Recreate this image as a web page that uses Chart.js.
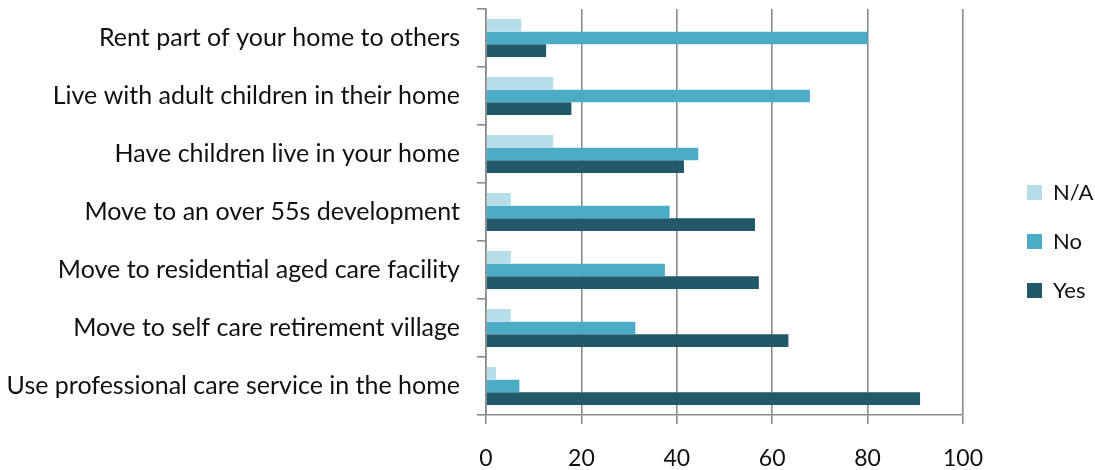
<!DOCTYPE html>
<html>
<head>
<meta charset="utf-8">
<script src="https://cdn.jsdelivr.net/npm/chart.js@4/dist/chart.umd.min.js"></script>
<style>
html,body{margin:0;padding:0;background:#fff;}
#wrap{width:1095px;height:470px;position:relative;}
</style>
</head>
<body>
<div id="wrap"><canvas id="c" width="1095" height="470"></canvas></div>
<script>
const categories = [
  "Rent part of your home to others",
  "Live with adult children in their home",
  "Have children live in your home",
  "Move to an over 55s development",
  "Move to residential aged care facility",
  "Move to self care retirement village",
  "Use professional care service in the home"
];
const seriesNames = ["N/A", "No", "Yes"];
const naValues  = [7.4, 14.1, 14.1, 5.2, 5.2, 5.2, 2.1];
const noValues  = [80.0, 67.9, 44.5, 38.5, 37.5, 31.3, 7.0];
const yesValues = [12.6, 17.9, 41.5, 56.4, 57.2, 63.4, 91.0];
const xTicks = [0, 20, 40, 60, 80, 100];
const seriesColors = ["#B7DEE8", "#4BACC6", "#215968"];

const FONT = "Lato, 'Open Sans', sans-serif";
const GRID = "#8a8a8a";

const legendShift = {
  id: "legendShift",
  afterLayout(chart) {
    const lg = chart.legend;
    if (!lg) return;
    const dx = 1000 - lg.left;
    const dy = 2;
    lg.left += dx; lg.right += dx;
    lg.top += dy; lg.bottom += dy;
  }
};

const chart = new Chart(document.getElementById("c"), {
  type: "bar",
  data: {
    labels: categories,
    datasets: [naValues, noValues, yesValues].map((vals, i) => ({
      label: seriesNames[i],
      data: vals,
      backgroundColor: seriesColors[i],
      borderWidth: 0,
      categoryPercentage: 0.655,
      barPercentage: 1.0
    }))
  },
  plugins: [legendShift],
  options: {
    indexAxis: "y",
    responsive: false,
    animation: false,
    events: [],
    layout: { padding: { top: 9, right: 0, bottom: 0, left: 0 } },
    plugins: {
      tooltip: { enabled: false },
      legend: {
        position: "right",
        align: "center",
        labels: {
          boxWidth: 15,
          boxHeight: 15,
          padding: 27,
          color: "#111",
          font: { family: FONT, size: 22 }
        }
      }
    },
    scales: {
      x: {
        type: "linear",
        min: 0,
        max: 100,
        afterBuildTicks: s => { s.ticks = xTicks.map(v => ({ value: v })); },
        afterFit: s => { s.paddingRight = 132; s.height = 55; },
        grid: { color: GRID, lineWidth: 1.6, tickLength: 9, drawTicks: true },
        border: { color: GRID, width: 1.6 },
        ticks: { color: "#111", padding: 21, font: { family: FONT, size: 23 } }
      },
      y: {
        type: "category",
        afterFit: s => { s.width = 486; s.paddingTop = 0; s.paddingBottom = 0; },
        grid: { color: GRID, lineWidth: 1.6, tickLength: 9, drawOnChartArea: false, offset: true },
        border: { color: GRID, width: 1.6 },
        ticks: { color: "#111", padding: 17, font: { family: FONT, size: 25 } }
      }
    }
  }
});
</script>
</body>
</html>
